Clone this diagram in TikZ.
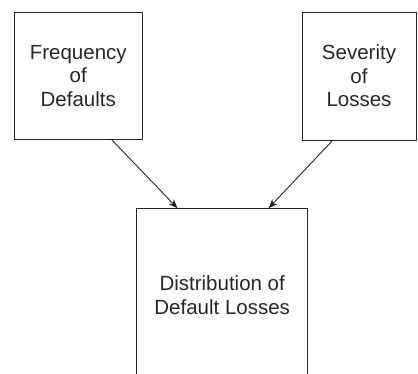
\documentclass[tikz,border=0pt]{standalone}
\usepackage{fontspec}
\setmainfont{Liberation Sans}
\usetikzlibrary{arrows.meta,calc}
\begin{document}
\begin{tikzpicture}[x=1pt,y=1pt,
  box/.style={draw=black!85,line width=0.9pt,rectangle,inner sep=0pt,align=center,
    font=\fontsize{20.5}{23.5}\selectfont,text=black!85},
  conn/.style={draw=black!85,line width=0.9pt,-{Stealth[length=9pt,width=7pt,inset=2.5pt]}}]
\useasboundingbox (0,0) rectangle (418,374);
\clip (0,0) rectangle (418,374);
\node[box,minimum width=128.5pt,minimum height=127.5pt] (freq) at (78.25,298.25) {Frequency\\of\\Defaults};
\node[box,minimum width=114pt,minimum height=128pt] (sev) at (359,298) {Severity\\of\\Losses};
\node[box,minimum width=171pt,minimum height=172.6pt] (dist) at (222.2,79) {Distribution of\\Default Losses};
\draw[conn] ($(freq.south west)!0.76!(freq.south east)$) -- ($(dist.north west)!0.24!(dist.north east)$);
\draw[conn] ($(sev.south west)!0.27!(sev.south east)$) -- ($(dist.north west)!0.77!(dist.north east)$);
\end{tikzpicture}
\end{document}
